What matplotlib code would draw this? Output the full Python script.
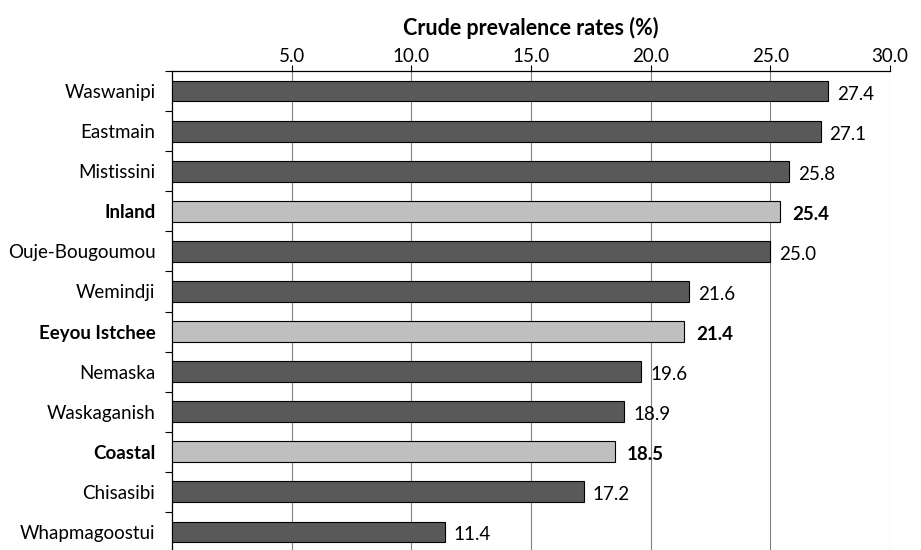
import matplotlib
matplotlib.use("Agg")
import matplotlib.pyplot as plt
from matplotlib.ticker import FixedLocator, MultipleLocator
from matplotlib.transforms import offset_copy

plt.rcParams['font.family'] = ['Lato', 'DejaVu Sans']

communities = ["Waswanipi", "Eastmain", "Mistissini", "Inland", "Ouje-Bougoumou",
               "Wemindji", "Eeyou Istchee", "Nemaska", "Waskaganish", "Coastal",
               "Chisasibi", "Whapmagoostui"]
rates = [27.4, 27.1, 25.8, 25.4, 25.0, 21.6, 21.4, 19.6, 18.9, 18.5, 17.2, 11.4]
is_summary = [False, False, False, True, False, False, True, False, False, True,
              False, False]
x_ticks = [5.0, 10.0, 15.0, 20.0, 25.0, 30.0]

fig = plt.figure(figsize=(9.21, 5.5), dpi=100)
ax = fig.add_axes([172 / 921, 1 - 552 / 550, (890 - 172) / 921, (552 - 71) / 550])

n = len(communities)
ypos = list(range(n))
colors = ["#bfbfbf" if s else "#595959" for s in is_summary]
ax.barh(ypos, rates, height=0.52, color=colors, edgecolor="black", linewidth=0.8,
        zorder=3)

ax.set_xlim(0, 30)
ax.set_ylim(n - 0.5, -0.5)

ax.xaxis.tick_top()
ax.xaxis.set_label_position("top")
ax.xaxis.set_major_locator(FixedLocator(x_ticks))
ax.set_xticklabels([f"{t:.1f}" for t in x_ticks], fontsize=13.5)
ax.tick_params(axis="x", which="major", direction="out", length=4, width=0.8,
               pad=0, colors="black")
ax.grid(axis="x", color="#808080", linewidth=0.8, zorder=0)
ax.set_xlabel("Crude prevalence rates (%)", fontsize=15.5, fontweight="bold",
              labelpad=10)

ax.set_yticks(ypos)
ax.set_yticklabels(communities, fontsize=13.5)
for lbl, s in zip(ax.get_yticklabels(), is_summary):
    if s:
        lbl.set_fontweight("bold")
ax.tick_params(axis="y", which="major", length=0, pad=12)
ax.yaxis.set_minor_locator(MultipleLocator(1, offset=0.5))
ax.tick_params(axis="y", which="minor", direction="out", length=5, width=0.8)

for side in ("bottom", "right"):
    ax.spines[side].set_visible(False)
for side in ("top", "left"):
    ax.spines[side].set_linewidth(0.9)

for y, v, s in zip(ypos, rates, is_summary):
    trans = offset_copy(ax.transData, fig=fig, x=9 if not s else 12, y=-3,
                        units="dots")
    ax.text(v, y, f"{v:.1f}", transform=trans, ha="left", va="center",
            fontsize=13.5, fontweight="bold" if s else "normal")

fig.savefig("out.png", dpi=100)
